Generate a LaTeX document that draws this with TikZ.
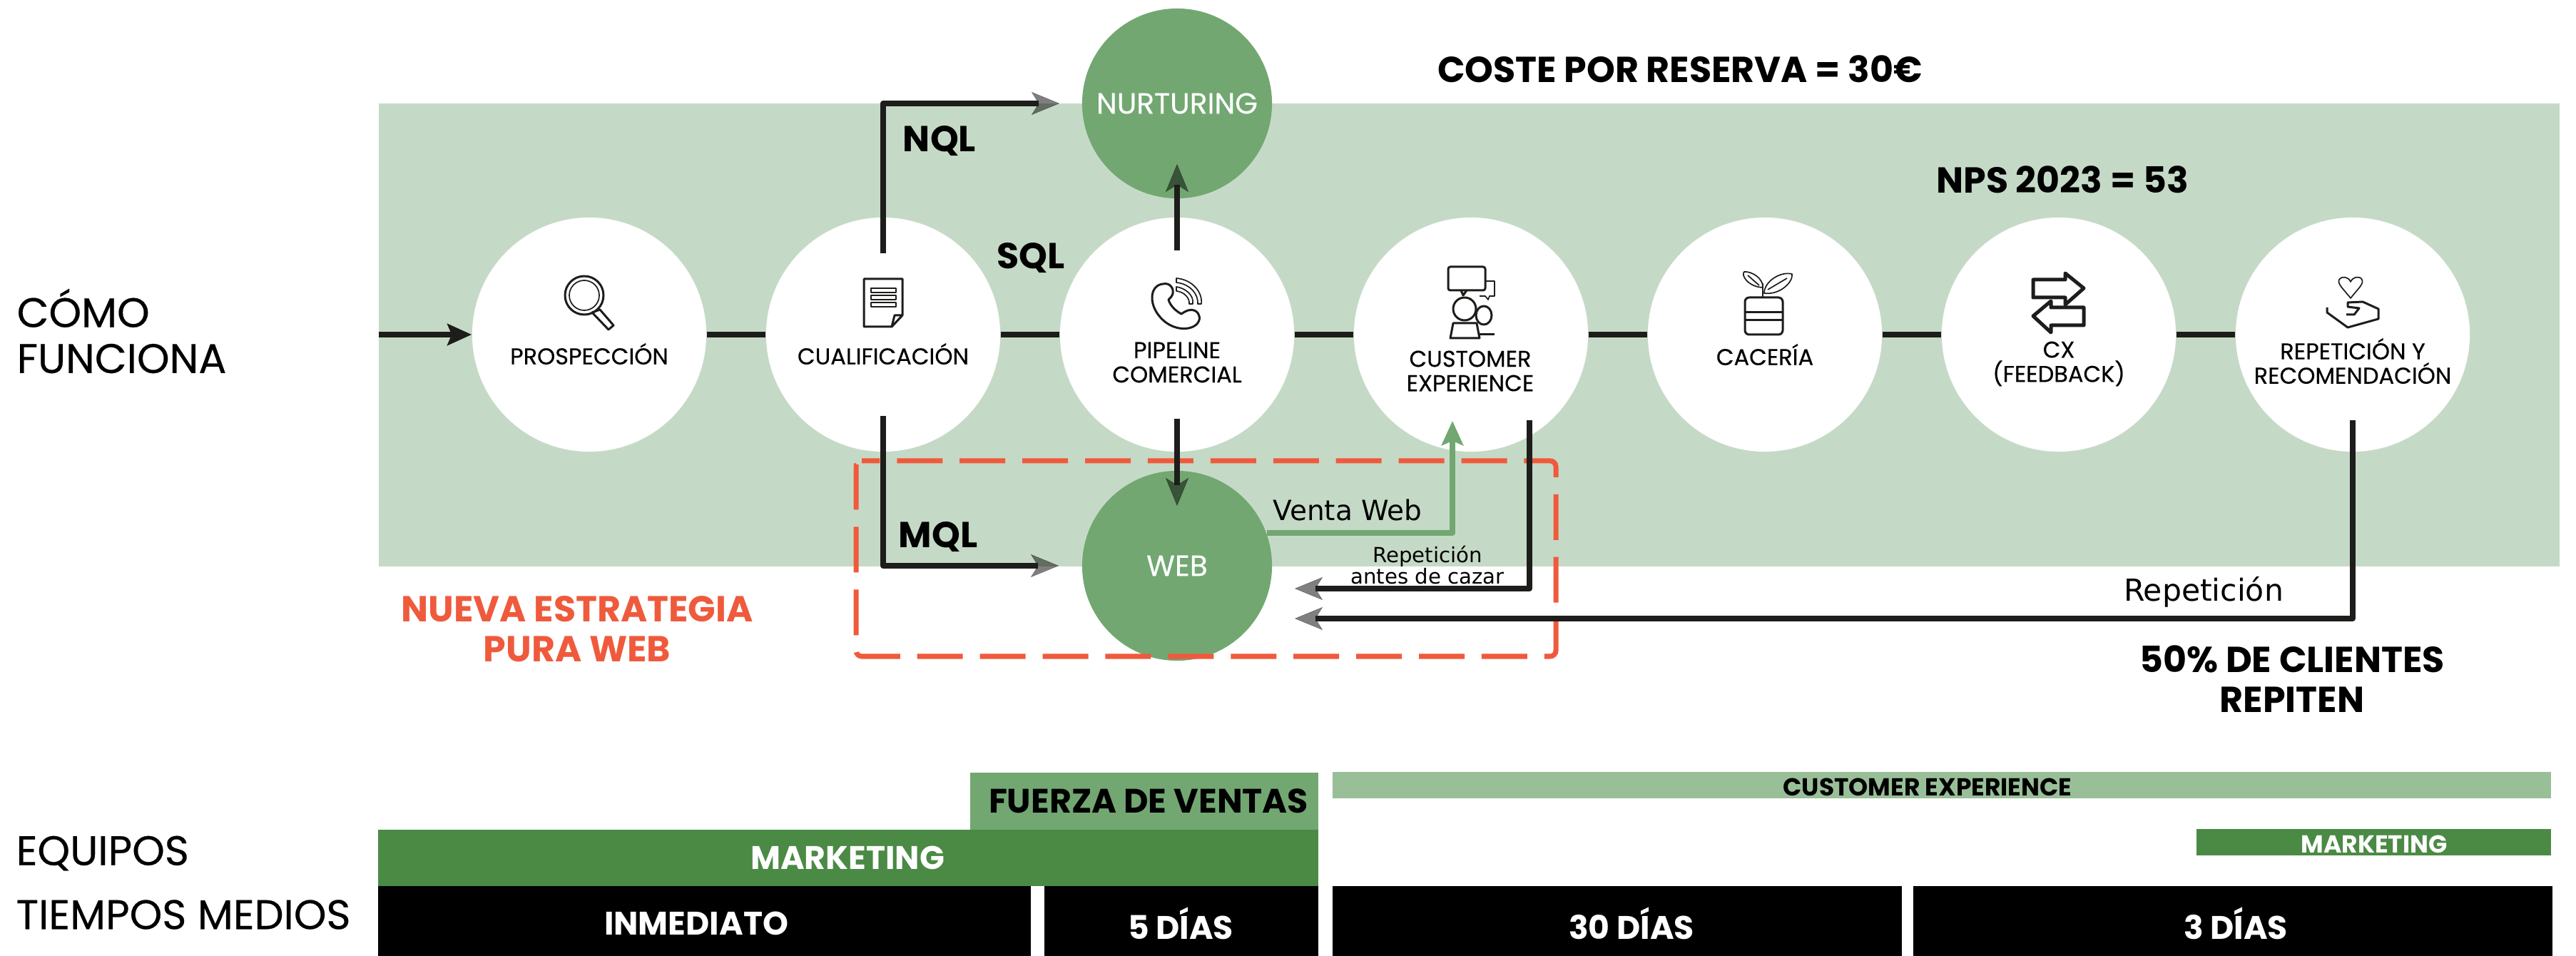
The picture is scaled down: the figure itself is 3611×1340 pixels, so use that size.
\documentclass[tikz,border=0pt]{standalone}
\usepackage{fontspec}
\setmainfont[UprightFeatures={FakeBold=0.35}]{Poppins}
\newfontfamily\notefont{DejaVu Sans}
\usetikzlibrary{arrows.meta}
\definecolor{bandgreen}{HTML}{C5DAC6}
\definecolor{midgreen}{HTML}{72A772}
\definecolor{darkgreen}{HTML}{4B8A45}
\definecolor{palegreen}{HTML}{99BF98}
\definecolor{wireblack}{HTML}{1D1D1B}
\definecolor{stratred}{HTML}{EF5A3C}

\begin{document}
\begin{tikzpicture}
[x=0.01cm,y=-0.01cm,
  wire/.style={draw=wireblack,line width=0.08cm,line join=round},
  greywire/.style={wire,shorten >=0.29cm,
    preaction={draw=black,line width=0.1pt,shorten >=0pt,opacity=0.5,
      -{Stealth[length=0.39cm,width=0.32cm,inset=0.1cm]}}},
  ventawire/.style={draw=midgreen,line width=0.08cm,line join=round,
    -{Stealth[length=0.34cm,width=0.3cm,inset=0.06cm]}},
  stepcircle/.style={shape=circle,fill=white,minimum size=3.28cm,inner sep=0pt},
  bigcircle/.style={shape=circle,fill=midgreen,minimum size=2.66cm,inner sep=0pt},
  steptext/.style={align=center,text=black,inner sep=0pt,
    font=\fontsize{9.1}{9.7}\selectfont},
  circletext/.style={text=white,inner sep=0pt,font=\fontsize{11.6}{13}\selectfont},
  boldtext/.style={align=center,inner sep=0pt,font=\bfseries\fontsize{14.4}{16}\selectfont},
  bartext/.style={boldtext,font=\bfseries\fontsize{13}{15}\selectfont},
  thinbartext/.style={boldtext,font=\bfseries\fontsize{9.8}{11}\selectfont},
  sidetext/.style={anchor=west,inner sep=0pt,font=\fontsize{16.5}{18.3}\selectfont},
  notetext/.style={align=center,inner sep=0pt,font=\notefont\fontsize{11.1}{12}\selectfont},
  iconline/.style={draw=wireblack,line width=0.03cm,line join=round},
  iconthin/.style={draw=wireblack,line width=0.017cm,line join=round}]

\useasboundingbox (0,0) rectangle (3611,1340);

% band
\fill [bandgreen] (531,145) rectangle (3588,794);

% top and bottom circles, and the steps
\draw (1650,145) node (nurt) [bigcircle] {}
      (1650,793) node (web) [bigcircle] {};
\coordinate (entry) at (531,469);
\draw (826,469) node (prosp) [stepcircle] {}
      (1238,469) node (cual) [stepcircle] {}
      (1650,469) node (pipe) [stepcircle] {}
      (2062,469) node (cx) [stepcircle] {}
      (2474,469) node (cace) [stepcircle] {}
      (2886,469) node (feed) [stepcircle] {}
      (3298,469) node (repe) [stepcircle] {};

\draw[wire,-{Stealth[length=0.34cm,width=0.3cm,inset=0.06cm]}] (entry) -- (prosp);
\foreach \a/\b in {prosp/cual,cual/pipe,pipe/cx,cx/cace,cace/feed,feed/repe}
  \draw[wire] (\a) -- (\b);

% red box
\draw[stratred,line width=0.07cm,rounded corners=0.08cm,
      dash pattern=on 18.2pt off 6.8pt,dash phase=11pt]
  (1200,646) -- (2181,646) -- (2181,920) -- (1200,920) -- cycle;

% connectors
\coordinate (nqlstart) at (1238,355);
\coordinate (nqltip) at (1485,145);
\coordinate (sqlstart) at (1650,351);
\coordinate (sqltip) at (1650,230);
\coordinate (mqlstart) at (1238,583);
\coordinate (mqltip) at (1484,793);
\coordinate (pipestart) at (1650,587);
\coordinate (pipetip) at (1650,709);
\coordinate (ventatip) at (2036,590);
\coordinate (cxstart) at (2144,589);
\coordinate (cxtip) at (1815,825);
\coordinate (repestart) at (3298,589);
\coordinate (repetip) at (1815,867);

\draw[greywire] (nqlstart) |- (nqltip);
\draw[greywire] (sqlstart) -- (sqltip);
\draw[greywire] (mqlstart) |- (mqltip);
\draw[greywire] (pipestart) -- (pipetip);
\draw[ventawire] (web.20) -| (ventatip);
\draw[greywire] (cxstart) |- (cxtip);
\draw[greywire] (repestart) |- (repetip);

% step labels
\node (prosptxt) [steptext] at (826,496) {PROSPECCIÓN};
\node (cualtxt) [steptext] at (1238,496) {CUALIFICACIÓN};
\node (pipetxt) [steptext] at (1650,508) {PIPELINE\\COMERCIAL};
\node (cxtxt) [steptext] at (2061,520) {CUSTOMER\\EXPERIENCE};
\node (cacetxt) [steptext] at (2474,497) {CACERÍA};
\node (feedtxt) [steptext] at (2886,510) {CX\\(FEEDBACK)};
\node (repetxt) [steptext] at (3298,506) {REPETICIÓN Y\\RECOMENDACIÓN};
\node (nurttxt) [circletext] at (1650,145) {NURTURING};
\node (webtxt) [circletext] at (1650,793) {WEB};

% texts
\node (coste) [boldtext] at (2355,97) {COSTE POR RESERVA = 30€};
\node (nps) [boldtext] at (2891,252) {NPS 2023 = 53};
\node (nql) [boldtext] at (1317,198) {NQL};
\node (sql) [boldtext] at (1445,362) {SQL};
\node (mql) [boldtext] at (1315,753) {MQL};
\node (nueva) [boldtext,text=stratred] at (809,882) {NUEVA ESTRATEGIA\\PURA WEB};
\node (clientes) [boldtext] at (3213,952) {50\% DE CLIENTES\\REPITEN};
\node (venta) [notetext] at (1889,715) {Venta Web};
\node (antes) [notetext,font=\notefont\fontsize{8.3}{8.3}\selectfont] at (2001,792) {Repetición\\antes de cazar};
\node (repelab) [notetext,font=\notefont\fontsize{12.1}{13}\selectfont] at (3089,830) {Repetición};
\node (como) [sidetext,align=left] at (23,464) {CÓMO\\FUNCIONA};
\node (equipos) [sidetext] at (22,1196) {EQUIPOS};
\node (tiempos) [sidetext] at (22,1282) {TIEMPOS MEDIOS};

% bottom bars
\fill [midgreen] (1360,1083) rectangle (1848,1163);
\fill [darkgreen] (530,1163) rectangle (1848,1242);
\fill [palegreen] (1868,1082) rectangle (3576,1119);
\fill [darkgreen] (3079,1162) rectangle (3576,1199);
\fill [black] (530,1242) rectangle (1445,1340);
\fill [black] (1464,1242) rectangle (1848,1340);
\fill [black] (1868,1242) rectangle (2666,1340);
\fill [black] (2682,1242) rectangle (3578,1340);
\node (fuerza) [boldtext,font=\bfseries\fontsize{13.5}{15}\selectfont] at (1610,1123) {FUERZA DE VENTAS};
\node (mark) [bartext,text=white] at (1188,1202) {MARKETING};
\node (cxbar) [thinbartext] at (2702,1103) {CUSTOMER EXPERIENCE};
\node (markb) [thinbartext,text=white] at (3328,1183) {MARKETING};
\node (inme) [bartext,text=white] at (976,1294) {INMEDIATO};
\node (cinco) [bartext,text=white] at (1655,1294) {5 DÍAS};
\node (treinta) [bartext,text=white] at (2287,1294) {30 DÍAS};
\node (tres) [bartext,text=white] at (3134,1294) {3 DÍAS};

% icons
\draw[iconline] (819,414) circle (27);
\draw[iconthin] (819,414) circle (21);
\draw[iconline] (830,438) -- (841,434) -- (860,456) -- (853,462) -- cycle;

\draw[iconline] (1265,442) -- (1265,391) -- (1211,391) -- (1211,458) -- (1250,458)
  -- (1265,442) -- (1254,442) -- (1250,458);
\foreach \y in {407,417,427}
  \draw[iconthin] (1221,\y-3) rectangle (1256,\y+3);

\draw[iconline] (1630,398) .. controls (1612,400) and (1610,425) .. (1625,443)
  .. controls (1640,462) and (1665,465) .. (1677,455)
  .. controls (1684,448) and (1682,440) .. (1676,436)
  .. controls (1668,432) and (1662,436) .. (1656,440)
  .. controls (1648,436) and (1640,428) .. (1638,420)
  .. controls (1645,414) and (1646,408) .. (1642,402)
  .. controls (1639,398) and (1635,397) .. (1630,398) -- cycle;
\draw[iconthin] (1649,390) .. controls (1672,392) and (1686,410) .. (1684,426)
  -- (1679,426) .. controls (1680,412) and (1668,398) .. (1649,396) -- cycle;
\draw[iconthin] (1649,402) .. controls (1662,404) and (1674,414) .. (1672,426)
  -- (1667,426) .. controls (1668,418) and (1660,409) .. (1649,408) -- cycle;

\draw[iconline,rounded corners=0.03cm] (2030,374) rectangle (2082,407);
\draw[iconline] (2048,407) -- (2051,414) -- (2056,407);
\draw[iconthin] (2082,394) -- (2095,394) -- (2095,415) -- (2088,415) -- (2086,420) -- (2082,415) -- (2074,415);
\draw[iconline] (2053,433) ellipse (16 and 16);
\draw[iconline] (2080,442) ellipse (11 and 13);
\draw[iconline] (2033,474) -- (2037,453) -- (2070,453) -- (2074,474) -- cycle;
\draw[iconline] (2072,469) -- (2095,469);

\draw[iconline,rounded corners=0.06cm] (2446,417) rectangle (2499,469);
\draw[iconline] (2446,438) -- (2499,438) (2446,449) -- (2499,449);
\draw[iconthin] (2471,417) -- (2471,397);
\draw[iconthin] (2471,403) .. controls (2450,402) and (2440,385) .. (2445,381)
  .. controls (2455,380) and (2472,390) .. (2471,403) -- cycle;
\draw[iconthin] (2473,411) .. controls (2473,395) and (2495,380) .. (2512,384)
  .. controls (2514,395) and (2495,414) .. (2473,411) -- cycle;
\draw[iconthin] (2450,386) -- (2466,400) (2478,406) -- (2505,390);

\draw[iconline,line width=0.05cm] (2850,392) -- (2895,392) -- (2895,383) -- (2921,404) -- (2895,427) -- (2895,417) -- (2850,417) -- cycle;
\draw[iconline,line width=0.05cm] (2921,431) -- (2875,431) -- (2875,422) -- (2850,443) -- (2875,466) -- (2875,456) -- (2921,456) -- cycle;

\draw[iconthin] (3295,418) .. controls (3285,405) and (3276,398) .. (3279,392)
  .. controls (3283,386) and (3292,388) .. (3295,395)
  .. controls (3298,388) and (3308,386) .. (3311,392)
  .. controls (3314,398) and (3305,405) .. (3295,418) -- cycle;
\draw[iconline] (3262,431) -- (3262,438) -- (3291,459) -- (3334,447) -- (3334,433) -- (3312,423)
  -- (3291,424) -- (3291,430) -- (3307,432) -- (3300,441) -- (3289,441);
\end{tikzpicture}
\end{document}
